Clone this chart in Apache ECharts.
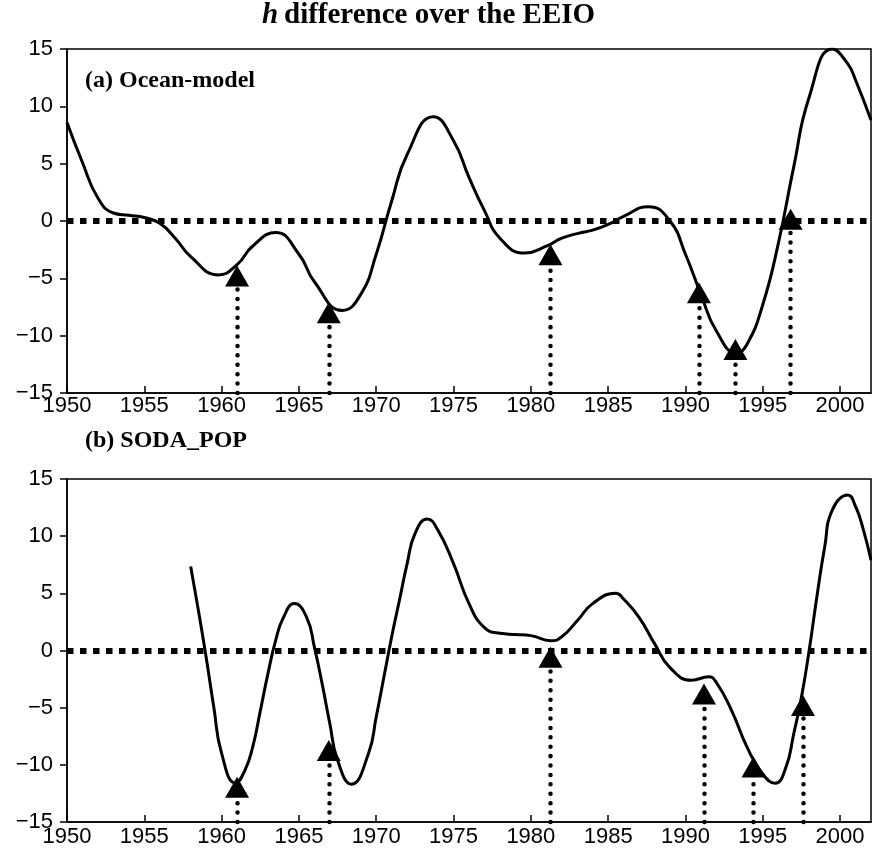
<!DOCTYPE html>
<html>
<head>
<meta charset="utf-8">
<script src="https://cdn.jsdelivr.net/npm/echarts@6/dist/echarts.min.js"></script>
<style>
html,body{margin:0;padding:0;background:#fff;}
#chart{width:872px;height:857px;}
</style>
</head>
<body>
<div id="chart"></div>
<script>
// ---- Data ----
const titleVar = 'h';
const titleText = 'difference over the EEIO';
const panelA = '(a) Ocean-model';
const panelB = '(b) SODA_POP';

const xTicks = [1950, 1955, 1960, 1965, 1970, 1975, 1980, 1985, 1990, 1995, 2000];
const yTicks = [-15, -10, -5, 0, 5, 10, 15];

// (a) Ocean-model curve (readings at about yearly steps, plus the visible extremes)
const topYears = [1950, 1951, 1952, 1953, 1954, 1955, 1956, 1957, 1958, 1959.8, 1961, 1962, 1963.5, 1965, 1966, 1967.8, 1969, 1970, 1971, 1972, 1973.7, 1975, 1976, 1977, 1978, 1979.6, 1981, 1982, 1983, 1984, 1985, 1986, 1987.6, 1989, 1990, 1991, 1992, 1993.3, 1994, 1995, 1996, 1997, 1998, 1999.5, 2000.5, 2001, 2002];
const topVals  = [8.6, 5.1, 2.0, 0.7, 0.5, 0.3, -0.2, -1.5, -3.1, -4.7, -3.8, -2.2, -1.0, -2.9, -5.3, -7.8, -6.4, -2.9, 1.75, 5.8, 9.1, 7.0, 3.8, 0.9, -1.5, -2.8, -2.2, -1.5, -1.1, -0.8, -0.3, 0.4, 1.25, 0.0, -2.9, -6.4, -9.6, -11.5, -10.7, -7.3, -2.0, 4.7, 10.8, 15.0, 13.7, 12.3, 8.8];

// (a) event markers (triangles)
const topEventYears = [1961.0, 1966.93, 1981.27, 1990.87, 1993.23, 1996.8];
const topEventVals  = [-4.8, -8.0, -2.95, -6.25, -11.2, 0.15];

// (b) SODA_POP curve (readings at about half-year steps, plus the visible extremes)
const botYears = [1958.0, 1958.5, 1959.0, 1959.5, 1960.0, 1960.9, 1961.5, 1962.0, 1962.5, 1963.0, 1963.5, 1964.0, 1964.7, 1965.5, 1966.0, 1966.5, 1967.0, 1967.5, 1968.4, 1969.5, 1970.0, 1970.5, 1971.0, 1971.5, 1972.0, 1972.5, 1973.3, 1974.0, 1975.0, 1976.0, 1977.0, 1978.0, 1979.0, 1980.0, 1981.3, 1982.0, 1983.0, 1984.0, 1985.5, 1986.0, 1987.0, 1988.0, 1989.0, 1990.4, 1991.5, 1992.0, 1993.0, 1994.0, 1995.0, 1995.8, 1996.5, 1997.0, 1997.5, 1998.0, 1998.5, 1999.0, 1999.5, 2000.5, 2001.0, 2001.5, 2002.0];
const botVals  = [7.35, 3.5, -0.6, -5.0, -9.0, -11.6, -10.5, -8.5, -5.3, -2.0, 0.9, 2.9, 4.1, 2.9, 0.3, -2.9, -6.4, -9.6, -11.7, -9.0, -5.8, -2.3, 1.2, 4.4, 7.6, 10.2, 11.5, 10.5, 7.6, 4.1, 2.0, 1.5, 1.4, 1.3, 0.85, 1.2, 2.6, 4.1, 5.0, 4.5, 2.9, 0.6, -1.5, -2.6, -2.3, -2.8, -5.3, -8.5, -10.8, -11.6, -10.2, -7.3, -4.1, 0.0, 4.7, 9.0, 12.3, 13.6, 12.6, 10.6, 7.9];

// (b) event markers
const botEventYears = [1961.0, 1966.93, 1981.27, 1991.2, 1994.4, 1997.6];
const botEventVals  = [-11.95, -8.75, -0.6, -3.8, -10.2, -4.8];

// ---- Build option ----
const zip = (xs, ys) => xs.map((x, i) => [x, ys[i]]);
const SANS = '"Liberation Sans", Arial, Helvetica, sans-serif';
const SERIF_B = 'bold 29px "Liberation Serif", "Times New Roman", serif';

function xAxis(gi, margin) {
  return {
    type: 'value', gridIndex: gi, min: 1950, max: 2002, interval: 5,
    axisLine: {show: true, onZero: false, lineStyle: {color: '#000', width: 1.5}},
    axisTick: {show: true, inside: true, length: 7, lineStyle: {color: '#000', width: 1.5}},
    axisLabel: {
      show: true, margin: margin, color: '#000', fontFamily: SANS, fontSize: 22,
      showMaxLabel: false,
      formatter: v => (Math.abs(v - Math.round(v)) < 1e-6 && xTicks.indexOf(Math.round(v)) >= 0) ? String(Math.round(v)) : ''
    },
    splitLine: {show: false}
  };
}
function yAxis(gi) {
  return {
    type: 'value', gridIndex: gi, min: -15, max: 15, interval: 5,
    axisLine: {show: true, onZero: false, lineStyle: {color: '#000', width: 1.5}},
    axisTick: {show: true, inside: false, length: 7, lineStyle: {color: '#000', width: 1.5}},
    axisLabel: {
      show: true, margin: 14, color: '#000', fontFamily: SANS, fontSize: 22,
      formatter: v => yTicks.indexOf(v) >= 0 ? String(v).replace('-', '\u2212') : ''
    },
    splitLine: {show: false}
  };
}

function panelSeries(gi, xs, ys, ex, ev) {
  return [
    {
      type: 'line', xAxisIndex: gi, yAxisIndex: gi, data: zip(xs, ys),
      smooth: 0.5, showSymbol: false, symbol: 'none', z: 3,
      lineStyle: {color: '#000', width: 3},
      markLine: {
        silent: true, symbol: 'none', label: {show: false},
        lineStyle: {color: '#000', width: 6, type: [6.5, 6.5]},
        data: [{yAxis: 0}]
      }
    },
    {
      type: 'line', xAxisIndex: gi, yAxisIndex: gi, data: [], z: 2,
      markLine: {
        silent: true, symbol: 'none', label: {show: false},
        lineStyle: {color: '#000', width: 4.5, type: [0.01, 9.4], cap: 'round'},
        data: ex.map((x, i) => [{coord: [x, -15]}, {coord: [x, ev[i]]}])
      }
    },
    {
      type: 'scatter', xAxisIndex: gi, yAxisIndex: gi, data: zip(ex, ev), z: 5,
      symbol: 'triangle', symbolSize: [24, 21],
      itemStyle: {color: '#000', opacity: 1}
    }
  ];
}

const option = {
  animation: false,
  backgroundColor: '#fff',
  grid: [
    {left: 67, right: 1, top: 49, height: 344, show: true, borderColor: '#000', borderWidth: 1.5, backgroundColor: 'transparent'},
    {left: 67, right: 1, top: 479, height: 343, show: true, borderColor: '#000', borderWidth: 1.5, backgroundColor: 'transparent'}
  ],
  xAxis: [xAxis(0, 2), xAxis(1, 4)],
  yAxis: [yAxis(0), yAxis(1)],
  graphic: [
    {
      type: 'text', left: 262, top: 1,
      style: {text: titleVar, font: 'italic ' + SERIF_B, fill: '#000'}
    },
    {
      type: 'text', left: 284, top: 1,
      style: {text: titleText, font: SERIF_B, fill: '#000'}
    },
    {
      type: 'text', left: 85, top: 69,
      style: {text: panelA, font: 'bold 24px "Liberation Serif", "Times New Roman", serif', fill: '#000'}
    },
    {
      type: 'text', left: 85, top: 429,
      style: {text: panelB, font: 'bold 24px "Liberation Serif", "Times New Roman", serif', fill: '#000'}
    }
  ],
  series: [].concat(
    panelSeries(0, topYears, topVals, topEventYears, topEventVals),
    panelSeries(1, botYears, botVals, botEventYears, botEventVals)
  )
};

const chart = echarts.init(document.getElementById('chart'), null, {renderer: 'canvas'});
chart.setOption(option);
</script>
</body>
</html>
